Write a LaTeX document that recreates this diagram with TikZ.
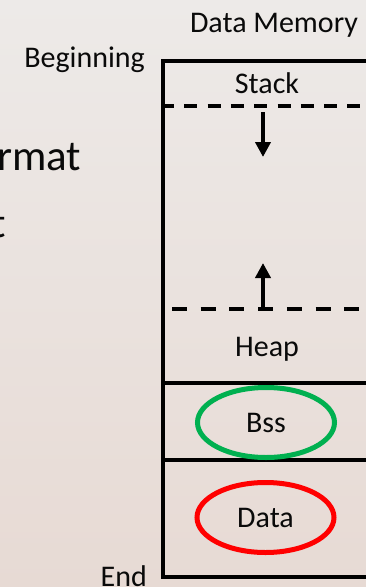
\documentclass[tikz,border=0pt]{standalone}
\usepackage{fontspec}
\setmainfont{Carlito}
\usetikzlibrary{arrows.meta,shapes.geometric}
\definecolor{bgtop}{HTML}{EDEAE8}
\definecolor{bgbot}{HTML}{E7DAD4}
\definecolor{txt}{HTML}{0A0A0A}
\definecolor{ogreen}{HTML}{00B050}
\definecolor{ored}{HTML}{FF0000}
\begin{document}
\begin{tikzpicture}[x=1pt,y=-1pt,
  lbl/.style={font=\fontsize{30}{36}\selectfont, text=txt, inner sep=0pt},
  big/.style={font=\fontsize{43}{50}\selectfont, text=txt, inner sep=0pt},
  wall/.style={line width=4pt, draw=black},
  dashA/.style={line width=4pt, dash pattern=on 13pt off 10.3pt},
  dashB/.style={line width=4pt, dash pattern=on 15pt off 13.7pt},
  arr/.style={line width=4pt, -{Triangle[width=15pt,length=15pt]}},
  seg/.style={ellipse, line width=5pt, minimum width=137pt, minimum height=70pt, inner sep=0pt, font=\fontsize{30}{36}\selectfont, text=txt}]
\useasboundingbox (0,0) rectangle (366,587);
\clip (0,0) rectangle (366,587);
\shade[top color=bgtop, bottom color=bgbot] (0,0) rectangle (366,587);

% left slide text (cut off)
\node[big, anchor=base west] (fmt) at (-3,170) {rmat};
\node[big, anchor=base east] (tt) at (6,237) {t};

% labels
\node[lbl, anchor=base] (title) at (274,32) {Data Memory};
\node[lbl, anchor=base east] (begin) at (145,67) {Beginning};
\node[lbl, anchor=base east] (end) at (147,586) {End};

% memory box
\node[wall, anchor=north west, minimum width=239pt, minimum height=516pt, inner sep=0pt] (mem) at (161,59) {};

% stack
\node[lbl] (stack) at (267,83) {Stack};
\coordinate (dAL) at (161,106);
\coordinate (dAR) at (400,106);
\draw[dashA] (dAL) -- (dAR);
\coordinate (dtop) at (263,112);
\coordinate (dbot) at (263,157);
\draw[arr] (dtop) -- (dbot);

% heap
\coordinate (dBL) at (172,309);
\coordinate (dBR) at (400,309);
\draw[dashB] (dBL) -- (dBR);
\coordinate (ubot) at (263,309);
\coordinate (utop) at (263,263);
\draw[arr] (ubot) -- (utop);
\node[lbl, anchor=base] (heap) at (267,356) {Heap};

% separators
\coordinate (s1L) at (161,383);
\coordinate (s1R) at (400,383);
\draw[wall] (s1L) -- (s1R);
\coordinate (s2L) at (161,460);
\coordinate (s2R) at (400,460);
\draw[wall] (s2L) -- (s2R);

% bss and data
\node[seg, draw=ogreen] (bss) at (266,422.5) {Bss};
\node[seg, draw=ored] (data) at (265.5,517.5) {Data};
\end{tikzpicture}
\end{document}
